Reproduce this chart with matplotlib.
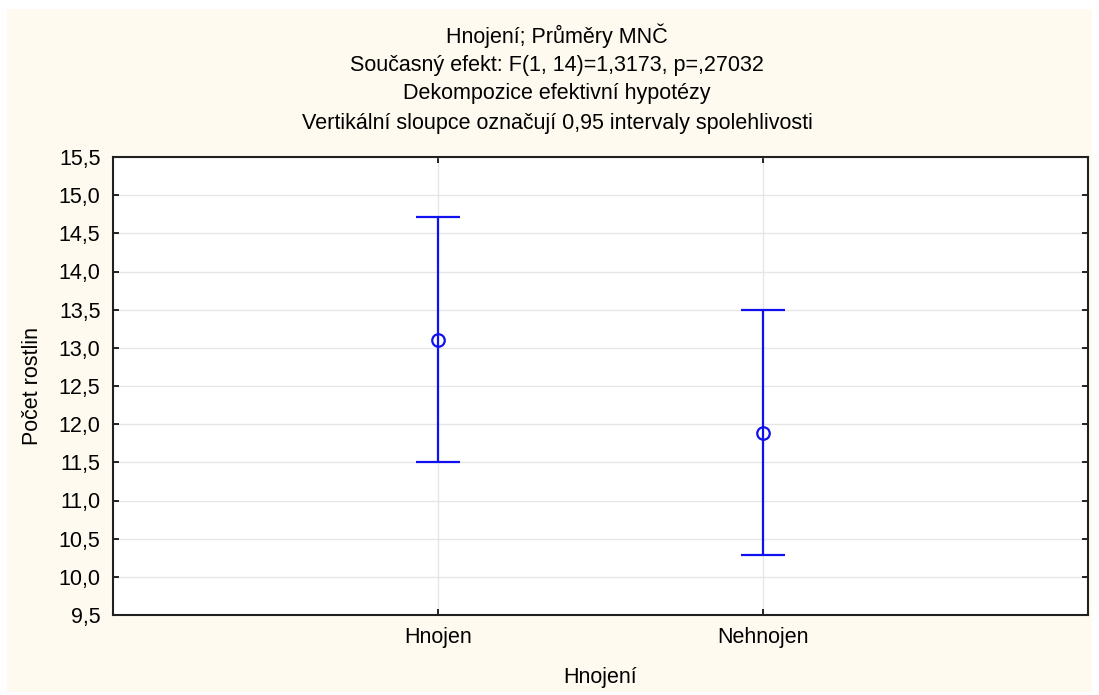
import matplotlib.pyplot as plt
from matplotlib.patches import Rectangle
from matplotlib.ticker import FuncFormatter

plt.rcParams['font.family'] = ['Liberation Sans', 'DejaVu Sans']

categories = ['Hnojen', 'Nehnojen']
means = [13.1, 11.89]
ci_low = [11.5, 10.28]
ci_high = [14.72, 13.5]

title_lines = [
    'Hnojení; Průměry MNČ',
    'Současný efekt: F(1, 14)=1,3173, p=,27032',
    'Dekompozice efektivní hypotézy',
    'Vertikální sloupce označují 0,95 intervaly spolehlivosti',
]

fs = 15.5
blue = '#1010F0'

fig = plt.figure(figsize=(10.99, 6.95), dpi=100)
fig.patch.set_facecolor('white')
# cream panel behind everything, with thin white border
fig.patches.append(Rectangle((7 / 1099, 3 / 695), 1085 / 1099, 683 / 695,
                             transform=fig.transFigure, facecolor='#FEFAF0',
                             edgecolor='none', zorder=-5))

ax = fig.add_axes([113 / 1099, 1 - 615 / 695, 975 / 1099, 458 / 695])
ax.set_facecolor('white')

x = list(range(1, len(categories) + 1))
yerr = [[m - lo for m, lo in zip(means, ci_low)],
        [hi - m for m, hi in zip(means, ci_high)]]
ax.errorbar(x, means, yerr=yerr, fmt='o', color=blue, ecolor=blue,
            mfc='none', mec=blue, ms=9, mew=1.6, elinewidth=1.6,
            capsize=16, capthick=1.6, zorder=3)

ax.set_xlim(0, 3)
ax.set_ylim(9.5, 15.5)
ax.set_xticks(x)
ax.set_xticklabels(categories)
ax.set_yticks([9.5 + 0.5 * i for i in range(13)])
ax.yaxis.set_major_formatter(FuncFormatter(lambda v, p: f'{v:.1f}'.replace('.', ',')))
ax.tick_params(direction='in', length=4, width=1.2, labelsize=fs, pad=9,
               right=True, top=True, colors='black')
ax.grid(True, color='#E6E6E6', linewidth=1)
ax.set_axisbelow(True)
for s in ax.spines.values():
    s.set_linewidth(1.5)
    s.set_color('#202020')

for i, line in enumerate(title_lines):
    fig.text(557 / 1099, 1 - (36 + 29 * i) / 695, line, ha='center', va='center', fontsize=fs)

fig.text((113 + 1088) / 2 / 1099, 1 - 677 / 695, 'Hnojení', ha='center', va='center', fontsize=fs)
fig.text(33 / 1099, 1 - 386 / 695, 'Počet rostlin', ha='center', va='center',
         rotation=90, fontsize=fs)

fig.savefig('out.png', dpi=100, facecolor=fig.get_facecolor())
